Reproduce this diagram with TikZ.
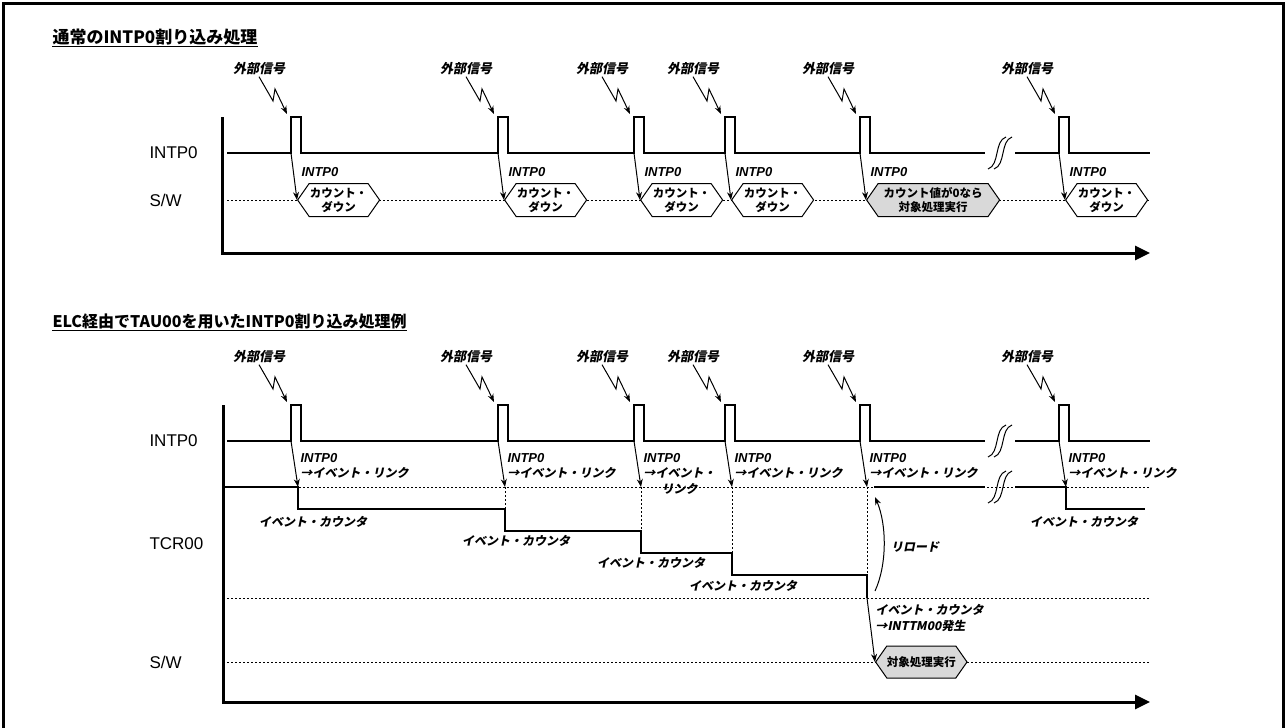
\documentclass[tikz,border=0pt]{standalone}
\usepackage{fontspec}
\setmainfont{Liberation Sans}
\newfontfamily\jp{Noto Sans CJK JP}
\newfontfamily\jpsl[FakeSlant=0.2]{Noto Sans CJK JP}
\usetikzlibrary{arrows.meta,shapes.symbols,positioning}

\begin{document}
\begin{tikzpicture}[x=1pt,y=-1pt,>={Stealth[length=8pt,width=6pt]},line width=1pt]
  \tikzstyle{title}=[font=\jp\bfseries\fontsize{16}{16}\selectfont,anchor=west,inner sep=0pt]
  \tikzstyle{sig}=[font=\fontsize{17}{17}\selectfont,anchor=west,inner sep=0pt]
  \tikzstyle{ext}=[font=\jpsl\bfseries\fontsize{13}{13}\selectfont,inner sep=1pt]
  \tikzstyle{lab}=[font=\jpsl\bfseries\fontsize{12}{16}\selectfont,inner sep=0pt,align=center]
  \tikzstyle{intl}=[font=\bfseries\itshape\fontsize{13}{13}\selectfont,anchor=west,inner sep=0pt]
  \tikzstyle{hexa}=[shape=signal,signal to=east and west,signal pointer angle=110,draw,fill=white,
                    minimum width=82pt,minimum height=33pt,inner sep=0pt,align=center,anchor=west,
                    font=\jp\bfseries\fontsize{11.5}{14}\selectfont]
  \tikzstyle{wave}=[line width=2pt]
  \tikzstyle{axis}=[line width=3pt,-{Triangle[length=15pt,width=14pt]}]
  \tikzstyle{dots}=[line width=0.8pt,dash pattern=on 2pt off 2pt]

  \useasboundingbox (0,0) rectangle (1285,728);
  \draw[line width=3pt] (3,3) rectangle (1283,745);

  % upper chart
  \node[title,font=\jp\bfseries\fontsize{17}{17}\selectfont] (t1) at (52,37) {通常のINTP0割り込み処理};
  \draw[line width=1.2pt] ([yshift=-1pt]t1.south west) -- ([yshift=-1pt]t1.south east);
  \node[sig] (in1) at (149,153) {INTP0};
  \node[sig] (sw1) at (149,200) {S/W};
  \draw[dots] (227,200) -- (1150,200);
  \draw[axis] (222,117) |- (1150,253);
  \draw[wave] (227,153) foreach \p in {291,498,634,725,860} { -- (\p,153) -- (\p,117) -- (\p+10,117) -- (\p+10,153) } -- (985,153);
  \draw[wave] (1015,153) -- (1059,153) -- (1059,117) -- (1069,117) -- (1069,153) -- (1150,153);
  \foreach \y in {153}
    \foreach \dx in {0,6}
      \draw[shift={(\dx,\y)}] (988,16) .. controls (1000,12) and (994,-12) .. (1006,-16);

  \foreach \p/\i in {291/1,498/2,634/3,725/4,1059/6}
    \node[hexa] (ha\i) at (\p+6,200) {カウント・\\ダウン};
  \node[hexa,fill=gray!30,minimum width=133pt] (ha5) at (866,200) {カウント値が0なら\\対象処理実行};

  \foreach \p/\i in {291/1,498/2,634/3,725/4,860/5,1059/6} {
    \node[ext] (ea\i) at (\p-32,69) {外部信号};
    \coordinate (ta\i) at (\p-4,114);
    \draw[->] (ea\i.south) -- (\p-18,101) -- (\p-16,89) -- (ta\i);
    \coordinate (pa\i) at (\p,153);
    \node[intl] (ia\i) at (\p+10,172) {INTP0};
    \draw[->] (pa\i) -- (ha\i.west);
  }

  % lower chart
  \node[title] (t2) at (52,321) {ELC経由でTAU00を用いたINTP0割り込み処理例};
  \draw[line width=1.2pt] ([yshift=-1pt]t2.south west) -- ([yshift=-1pt]t2.south east);
  \node[sig] (in2) at (149,441) {INTP0};
  \node[sig] (tcr) at (149,544) {TCR00};
  \node[sig] (sw2) at (149,662) {S/W};
  \draw[dots] (299,487) -- (1150,487);
  \draw[dots] (223,598) -- (1150,598);
  \draw[dots] (223,662) -- (1150,662);
  \draw[dots] (505,487) -- (505,509);
  \draw[dots] (641,487) -- (641,531);
  \draw[dots] (732,487) -- (732,553);
  \draw[dots] (867,487) -- (867,575);
  \draw[axis] (223,405) |- (1150,702);
  \draw[wave] (227,441) foreach \p in {291,498,634,725,860} { -- (\p,441) -- (\p,405) -- (\p+10,405) -- (\p+10,441) } -- (985,441);
  \draw[wave] (1015,441) -- (1059,441) -- (1059,405) -- (1069,405) -- (1069,441) -- (1150,441);
  \draw[wave] (223,487) -- (298,487) -- (298,509) -- (505,509) -- (505,531) -- (641,531)
              -- (641,553) -- (732,553) -- (732,575) -- (867,575) -- (867,598);
  \draw[wave] (874,487) -- (985,487);
  \draw[wave] (1015,487) -- (1066,487) -- (1066,509) -- (1145,509);
  \foreach \y in {441,487}
    \foreach \dx in {0,6}
      \draw[shift={(\dx,\y)}] (988,16) .. controls (1000,12) and (994,-12) .. (1006,-16);

  \foreach \p/\i/\txt in {291/1/{→イベント・リンク},498/2/{→イベント・リンク},634/3/{→イベント・\\リンク},
                          725/4/{→イベント・リンク},860/5/{→イベント・リンク},1059/6/{→イベント・リンク}} {
    \node[ext] (eb\i) at (\p-32,357) {外部信号};
    \coordinate (tb\i) at (\p-4,402);
    \draw[->] (eb\i.south) -- (\p-18,389) -- (\p-16,377) -- (tb\i);
    \coordinate (pb\i) at (\p,441);
    \coordinate (db\i) at (\p+7,487);
    \node[intl] (ib\i) at (\p+9,458) {INTP0};
    \node[lab,anchor=north west] (lb\i) at (\p+9,467) {\txt};
    \draw[->] (pb\i) -- (db\i);
  }

  \node[lab] (ec1) at (313,522) {イベント・カウンタ};
  \node[lab] (ec2) at (516,541) {イベント・カウンタ};
  \node[lab] (ec3) at (651,563) {イベント・カウンタ};
  \node[lab] (ec4) at (743,586) {イベント・カウンタ};
  \node[lab] (ec6) at (1084,522) {イベント・カウンタ};

  \coordinate (rl0) at (875,591);
  \coordinate (rl1) at (875,497);
  \draw[->] (rl0) .. controls (887,565) and (887,525) .. (rl1);
  \node[lab] (rld) at (915,547) {リロード};

  \coordinate (ov) at (867,598);
  \node[hexa,fill=gray!30,minimum width=87pt,minimum height=32pt] (hb) at (875,662) {対象処理実行};
  \draw[->] (ov) -- (hb.west);
  \node[lab,align=left,anchor=north west] (ovl) at (875,604) {イベント・カウンタ\\→INTTM00発生};
\end{tikzpicture}
\end{document}
